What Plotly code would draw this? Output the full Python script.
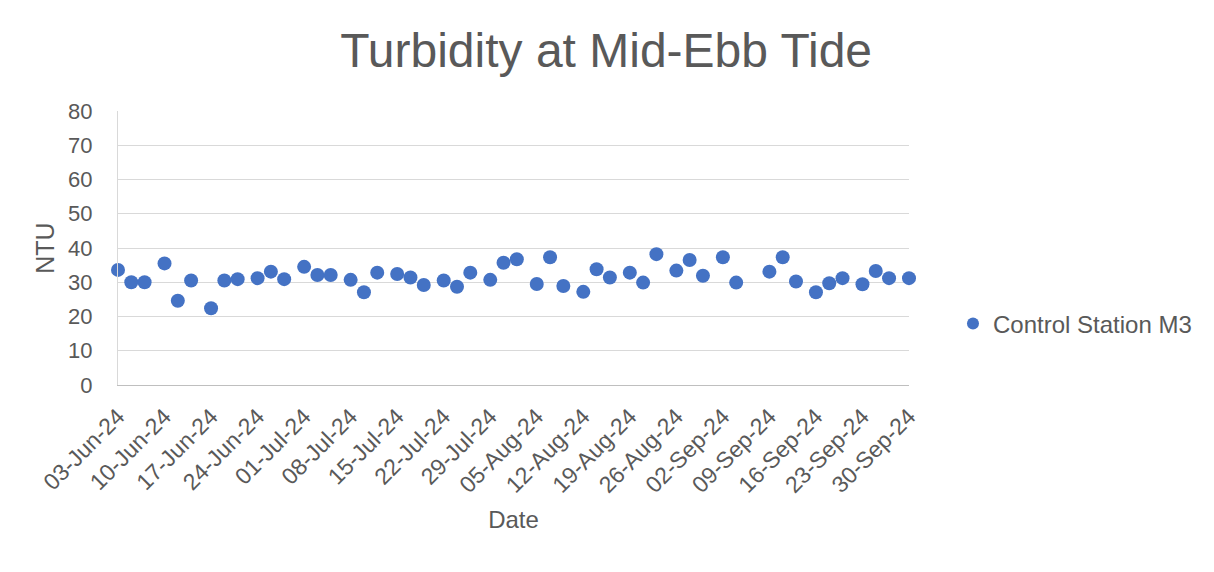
import plotly.graph_objects as go

title_text = "Turbidity at Mid-Ebb Tide"
series_name = "Control Station M3"

dates = [
    "2024-06-03", "2024-06-05", "2024-06-07", "2024-06-10", "2024-06-12", "2024-06-14",
    "2024-06-17", "2024-06-19", "2024-06-21", "2024-06-24", "2024-06-26", "2024-06-28",
    "2024-07-01", "2024-07-03", "2024-07-05", "2024-07-08", "2024-07-10", "2024-07-12",
    "2024-07-15", "2024-07-17", "2024-07-19", "2024-07-22", "2024-07-24", "2024-07-26",
    "2024-07-29", "2024-07-31", "2024-08-02", "2024-08-05", "2024-08-07", "2024-08-09",
    "2024-08-12", "2024-08-14", "2024-08-16", "2024-08-19", "2024-08-21", "2024-08-23",
    "2024-08-26", "2024-08-28", "2024-08-30", "2024-09-02", "2024-09-04",
    "2024-09-09", "2024-09-11", "2024-09-13", "2024-09-16", "2024-09-18", "2024-09-20",
    "2024-09-23", "2024-09-25", "2024-09-27", "2024-09-30",
]

ntu = [
    33.6, 30.0, 30.0, 35.5, 24.6, 30.5,
    22.4, 30.5, 30.9, 31.2, 33.1, 30.9,
    34.5, 32.1, 32.1, 30.7, 27.1, 32.8,
    32.4, 31.4, 29.2, 30.5, 28.7, 32.8,
    30.7, 35.7, 36.7, 29.5, 37.3, 28.9,
    27.2, 33.8, 31.4, 32.8, 29.9, 38.2,
    33.4, 36.5, 31.9, 37.3, 29.9,
    33.1, 37.3, 30.2, 27.1, 29.7, 31.2,
    29.4, 33.3, 31.2, 31.2,
]

x_start, x_end = "2024-06-03", "2024-09-30"
y_range = [0, 80]

FONT = "Liberation Sans, Arial, sans-serif"
GREY = "#595959"
BLUE = "#4472C4"

W, H = 1206, 564  # page body has an 8px margin

fig = go.Figure()
fig.add_trace(go.Scatter(
    x=dates, y=ntu, mode="markers", name=series_name,
    marker=dict(color=BLUE, size=14, line=dict(width=0)),
    cliponaxis=False,
))

fig.update_layout(
    width=W, height=H,
    margin=dict(l=110, r=305, t=103, b=187),
    paper_bgcolor="white", plot_bgcolor="white",
    font=dict(family=FONT, color=GREY),
    title=dict(text=title_text, x=0.496, xref="container", xanchor="center",
               y=1 - 42 / H, yref="container", yanchor="middle",
               font=dict(size=48, color=GREY, family=FONT)),
    showlegend=True,
    legend=dict(x=1.0556, y=0.2226, xanchor="left", yanchor="middle",
                font=dict(size=24, color=GREY, family=FONT),
                bgcolor="rgba(0,0,0,0)", itemsizing="constant"),
    xaxis=dict(
        type="date", range=[x_start, x_end],
        tick0=x_start, dtick=7 * 24 * 3600 * 1000,
        tickformat="%d-%b-%y", tickangle=-45,
        tickfont=dict(size=23, color=GREY, family=FONT),
        ticklabelstandoff=8,
        showgrid=False, showline=True, linecolor="#bfbfbf", linewidth=1,
        ticks="", zeroline=False,
        title=dict(text="Date", font=dict(size=24, color=GREY, family=FONT), standoff=14),
    ),
    yaxis=dict(
        range=y_range, dtick=10,
        tickfont=dict(size=22, color=GREY, family=FONT),
        ticklabelstandoff=20,
        showgrid=True, gridcolor="#d9d9d9", gridwidth=1,
        showline=True, linecolor="#d9d9d9", linewidth=1,
        ticks="", zeroline=False,
        title=dict(text="NTU", font=dict(size=25, color=GREY, family=FONT), standoff=6),
    ),
)

fig.write_html("out.html")
